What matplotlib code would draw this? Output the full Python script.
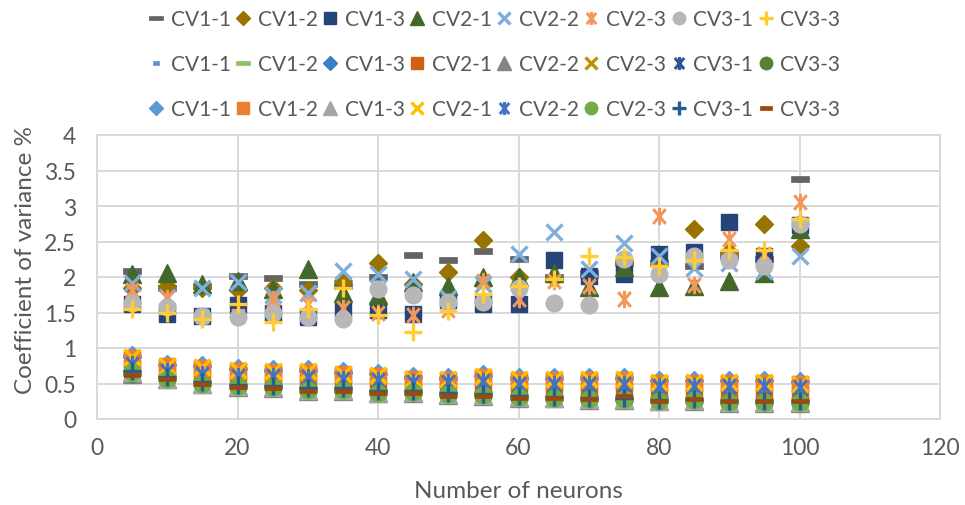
import matplotlib
matplotlib.use("Agg")
import matplotlib.pyplot as plt
from matplotlib.path import Path

plt.rcParams['font.family'] = ['Lato', 'DejaVu Sans']

# ---------------- data ----------------
neurons = [5, 10, 15, 20, 25, 30, 35, 40, 45, 50, 55, 60, 65, 70, 75, 80, 85, 90, 95, 100]
series_names = ["CV1-1", "CV1-2", "CV1-3", "CV2-1", "CV2-2", "CV2-3", "CV3-1", "CV3-3"]

# group A (upper cluster)
a_cv11 = [2.08, 1.85, 1.88, 2.02, 1.98, 1.90, 1.88, 2.00, 2.31, 2.24, 2.37, 2.25, 2.00, 2.05, 2.20, 2.20, 2.15, 2.30, 2.25, 3.38]
a_cv12 = [1.85, 1.87, 1.85, 1.82, 1.85, 1.82, 1.95, 2.20, 1.90, 2.07, 2.52, 2.00, 1.98, 2.00, 2.20, 2.20, 2.67, 2.35, 2.75, 2.44]
a_cv13 = [1.62, 1.48, 1.45, 1.60, 1.50, 1.43, 1.55, 1.53, 1.48, 1.67, 1.62, 1.62, 2.24, 2.02, 2.04, 2.32, 2.35, 2.77, 2.30, 2.73]
a_cv21 = [2.04, 2.05, 1.90, 1.95, 1.83, 2.11, 1.78, 1.75, 1.93, 1.88, 2.00, 2.00, 2.05, 1.86, 2.14, 1.86, 1.88, 1.95, 2.05, 2.68]
a_cv22 = [1.92, 1.72, 1.85, 1.93, 1.74, 1.78, 2.09, 2.04, 1.97, 1.70, 1.90, 2.32, 2.63, 2.11, 2.48, 2.30, 2.12, 2.20, 2.08, 2.30]
a_cv23 = [1.81, 1.70, 1.45, 1.45, 1.69, 1.62, 1.56, 1.49, 1.47, 1.53, 1.95, 1.69, 1.95, 1.87, 1.69, 2.86, 1.89, 2.54, 2.32, 3.06]
a_cv31 = [1.64, 1.58, 1.45, 1.43, 1.50, 1.43, 1.41, 1.83, 1.75, 1.65, 1.65, 1.85, 1.63, 1.60, 2.26, 2.04, 2.30, 2.24, 2.15, 2.75]
a_cv33 = [1.55, 1.50, 1.41, 1.62, 1.36, 1.55, 1.84, 1.47, 1.23, 1.52, 1.76, 1.88, 1.97, 2.29, 2.28, 2.16, 2.24, 2.38, 2.38, 2.82]

# group B (lower cluster, mostly hidden)
b_cv11 = [0.80, 0.70, 0.67, 0.64, 0.62, 0.61, 0.59, 0.57, 0.54, 0.53, 0.56, 0.52, 0.52, 0.52, 0.52, 0.49, 0.49, 0.49, 0.48, 0.47]
b_cv12 = [0.65, 0.58, 0.51, 0.47, 0.46, 0.42, 0.42, 0.38, 0.38, 0.35, 0.35, 0.31, 0.30, 0.29, 0.29, 0.27, 0.27, 0.25, 0.25, 0.25]
b_cv13 = [0.87, 0.76, 0.74, 0.70, 0.68, 0.68, 0.65, 0.63, 0.58, 0.57, 0.61, 0.57, 0.57, 0.57, 0.57, 0.54, 0.53, 0.53, 0.53, 0.52]
b_cv21 = [0.72, 0.65, 0.60, 0.56, 0.55, 0.52, 0.52, 0.48, 0.47, 0.45, 0.46, 0.42, 0.41, 0.40, 0.40, 0.38, 0.38, 0.37, 0.37, 0.36]
b_cv22 = [0.64, 0.56, 0.49, 0.45, 0.44, 0.40, 0.40, 0.36, 0.37, 0.34, 0.33, 0.30, 0.29, 0.27, 0.27, 0.25, 0.26, 0.23, 0.23, 0.23]
b_cv23 = [0.84, 0.73, 0.71, 0.67, 0.65, 0.65, 0.62, 0.60, 0.56, 0.55, 0.58, 0.54, 0.54, 0.54, 0.54, 0.51, 0.51, 0.51, 0.51, 0.49]
b_cv31 = [0.76, 0.66, 0.63, 0.60, 0.59, 0.58, 0.56, 0.54, 0.51, 0.51, 0.53, 0.49, 0.49, 0.49, 0.49, 0.46, 0.46, 0.46, 0.46, 0.44]
b_cv33 = [0.64, 0.56, 0.49, 0.45, 0.44, 0.40, 0.40, 0.36, 0.37, 0.34, 0.33, 0.30, 0.29, 0.27, 0.27, 0.25, 0.26, 0.23, 0.23, 0.23]

# group C (lower cluster, on top)
c_cv11 = [0.90, 0.78, 0.76, 0.72, 0.70, 0.70, 0.67, 0.65, 0.60, 0.59, 0.63, 0.59, 0.59, 0.59, 0.59, 0.55, 0.55, 0.55, 0.55, 0.53]
c_cv12 = [0.86, 0.74, 0.72, 0.68, 0.66, 0.66, 0.63, 0.61, 0.56, 0.55, 0.59, 0.55, 0.55, 0.55, 0.55, 0.51, 0.51, 0.51, 0.51, 0.49]
c_cv13 = [0.66, 0.57, 0.50, 0.46, 0.45, 0.41, 0.41, 0.37, 0.38, 0.35, 0.34, 0.31, 0.29, 0.28, 0.28, 0.26, 0.27, 0.24, 0.24, 0.24]
c_cv21 = [0.87, 0.75, 0.73, 0.69, 0.67, 0.67, 0.64, 0.62, 0.57, 0.56, 0.60, 0.56, 0.56, 0.56, 0.56, 0.52, 0.52, 0.52, 0.52, 0.50]
c_cv22 = [0.78, 0.67, 0.64, 0.61, 0.60, 0.59, 0.57, 0.55, 0.52, 0.52, 0.54, 0.50, 0.50, 0.50, 0.50, 0.47, 0.47, 0.47, 0.47, 0.45]
c_cv23 = [0.66, 0.57, 0.50, 0.46, 0.45, 0.41, 0.41, 0.37, 0.38, 0.35, 0.34, 0.31, 0.29, 0.28, 0.28, 0.26, 0.27, 0.24, 0.24, 0.24]
c_cv31 = [0.68, 0.59, 0.52, 0.48, 0.47, 0.43, 0.43, 0.39, 0.40, 0.36, 0.35, 0.32, 0.31, 0.29, 0.29, 0.27, 0.28, 0.25, 0.25, 0.25]
c_cv33 = [0.62, 0.57, 0.49, 0.45, 0.44, 0.39, 0.40, 0.37, 0.36, 0.33, 0.33, 0.29, 0.29, 0.28, 0.32, 0.26, 0.28, 0.25, 0.25, 0.25]

x_ticks = [0, 20, 40, 60, 80, 100, 120]
y_ticks = [0, 0.5, 1, 1.5, 2, 2.5, 3, 3.5, 4]
y_tick_labels = ["0", "0.5", "1", "1.5", "2", "2.5", "3", "3.5", "4"]

# ---------------- marker shapes ----------------
DASH = [(-1, -0.27), (1, -0.27), (1, 0.27), (-1, 0.27), (-1, -0.27)]
SDASH = [(-1, -0.6), (1, -0.6), (1, 0.6), (-1, 0.6), (-1, -0.6)]
AST = Path([(0, -1), (0, 1), (-0.72, -0.85), (0.72, 0.85), (-0.72, 0.85), (0.72, -0.85)],
           [Path.MOVETO, Path.LINETO, Path.MOVETO, Path.LINETO, Path.MOVETO, Path.LINETO])

# style: (marker, color, size, filled, edge width)
style_a = [
    (DASH, "#636363", 13.5, True, 0.5),
    ("D", "#997300", 9.2, True, 1),
    ("s", "#264478", 12, True, 1),
    ("^", "#43682B", 12.5, True, 1),
    ("x", "#7CAFDD", 12, False, 2.4),
    (AST, "#F1975A", 12.5, False, 2.2),
    ("o", "#B7B7B7", 12, True, 1),
    ("+", "#FFCD33", 13, False, 2.4),
]
style_b = [
    (SDASH, "#698ED0", 6, True, 0.5),
    (DASH, "#8CC168", 13.5, True, 0.5),
    ("D", "#3A7FC8", 9.2, True, 1),
    ("s", "#D26012", 12, True, 1),
    ("^", "#848484", 12.5, True, 1),
    ("x", "#BF9000", 12, False, 2.4),
    (AST, "#2F5597", 12.5, False, 2.2),
    ("o", "#548235", 12, True, 1),
]
style_c = [
    ("D", "#5B9BD5", 9.2, True, 1),
    ("s", "#ED7D31", 12, True, 1),
    ("^", "#A5A5A5", 12.5, True, 1),
    ("x", "#FFC000", 12, False, 2.4),
    (AST, "#4472C4", 12.5, False, 2.2),
    ("o", "#70AD47", 12, True, 1),
    ("+", "#255E91", 13, False, 2.4),
    (DASH, "#9E480E", 11, True, 0.5),
]

group_a = [a_cv11, a_cv12, a_cv13, a_cv21, a_cv22, a_cv23, a_cv31, a_cv33]
group_b = [b_cv11, b_cv12, b_cv13, b_cv21, b_cv22, b_cv23, b_cv31, b_cv33]
group_c = [c_cv11, c_cv12, c_cv13, c_cv21, c_cv22, c_cv23, c_cv31, c_cv33]

fig = plt.figure(figsize=(9.65, 5.06), dpi=100)
ax = fig.add_axes([97 / 965, 1 - 420 / 506, (940 - 97) / 965, (420 - 136) / 506])

text_col = "#595959"
grid_col = "#D9D9D9"

legend_rows = []
z = 3
for group, styles in [(group_a, style_a), (group_b, style_b), (group_c, style_c)]:
    handles = []
    for name, vals, (mk, col, ms, filled, mew) in zip(series_names, group, styles):
        face = col if filled else "none"
        ln, = ax.plot(neurons, vals, linestyle="none", marker=mk, markersize=ms,
                      markerfacecolor=face, markeredgecolor=col, markeredgewidth=mew,
                      zorder=z, label=name, clip_on=False)
        handles.append(ln)
        z += 0.01
    legend_rows.append(handles)

ax.set_xlim(0, 120)
ax.set_ylim(0, 4)
ax.set_xticks(x_ticks)
ax.set_yticks(y_ticks)
ax.set_yticklabels(y_tick_labels)
ax.grid(True, color=grid_col, linewidth=1.4, zorder=0)
ax.set_axisbelow(True)
for sp in ax.spines.values():
    sp.set_color(grid_col)
    sp.set_linewidth(1.4)
ax.tick_params(axis="both", length=0, labelsize=16.5, labelcolor=text_col)
ax.tick_params(axis="y", pad=15)
ax.tick_params(axis="x", pad=13)

ax.set_xlabel("Number of neurons", fontsize=17.5, color=text_col)
ax.xaxis.set_label_coords(0.5, -0.2535)
ax.xaxis.label.set_va("center")
ax.set_ylabel("Coefficient of variance %", fontsize=17.5, color=text_col)
ax.yaxis.set_label_coords(-0.0854, 0.563)
ax.yaxis.label.set_va("center")
ax.yaxis.label.set_ha("center")

for row, ypix in zip(legend_rows, [20, 65, 110]):
    fig.legend(handles=row, loc="center", bbox_to_anchor=(494 / 965, 1 - ypix / 506),
               ncol=8, frameon=False, fontsize=15, markerscale=0.75,
               handlelength=0.8, handletextpad=0.3, columnspacing=0.2,
               labelcolor=text_col, borderaxespad=0, borderpad=0)

fig.savefig("out.png", dpi=100)
